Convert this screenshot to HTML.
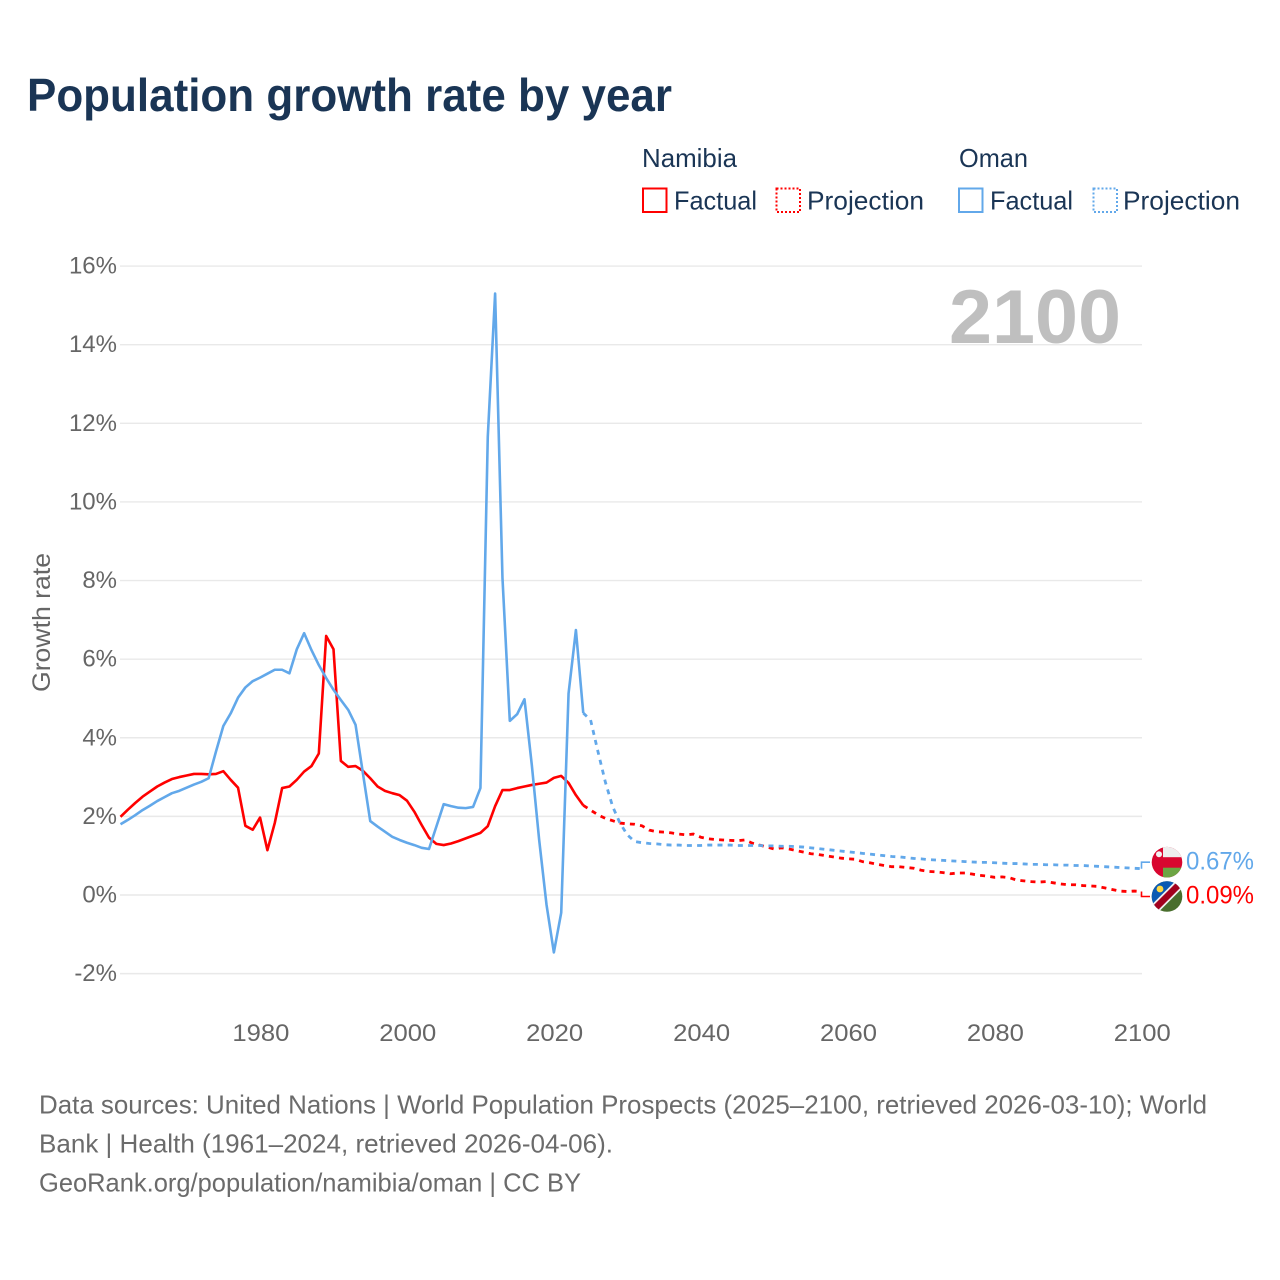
<!DOCTYPE html>
<html lang="en">
<head>
<meta charset="utf-8">
<title>Population growth rate by year</title>
<style>
html,body{margin:0;padding:0;background:#fff;}
svg{display:block;}
text{font-family:"Liberation Sans",sans-serif;}
.legend-text{font-size:26px;fill:#1a3555;}
.footer-text{font-size:26px;fill:#6b6b6b;}
.tick{font-size:24px;fill:#666;}
</style>
</head>
<body>
<svg id="chart" xmlns="http://www.w3.org/2000/svg" width="1280" height="1280" viewBox="0 0 1280 1280">
  <defs>
    <clipPath id="clip-oman"><circle cx="0" cy="0" r="15.3"/></clipPath>
    <clipPath id="clip-namibia"><circle cx="0" cy="0" r="15.3"/></clipPath>
  </defs>

  <text x="27" y="111" font-size="46" font-weight="700" fill="#1a3555" textLength="645" lengthAdjust="spacingAndGlyphs">Population growth rate by year</text>

  <g>
    <text class="legend-text" x="642" y="167" textLength="95" lengthAdjust="spacingAndGlyphs">Namibia</text>
    <text class="legend-text" x="959" y="167" textLength="69" lengthAdjust="spacingAndGlyphs">Oman</text>

    <rect x="643" y="188.5" width="23.5" height="23.5" fill="none" stroke="#ff0000" stroke-width="2"/>
    <text class="legend-text" x="674" y="209.5" textLength="83" lengthAdjust="spacingAndGlyphs">Factual</text>

    <rect x="776.5" y="188.5" width="23.5" height="23.5" fill="none" stroke="#ff0000" stroke-width="2" stroke-dasharray="2 2"/>
    <text class="legend-text" x="807" y="209.5" textLength="117" lengthAdjust="spacingAndGlyphs">Projection</text>

    <rect x="959" y="188.5" width="23.5" height="23.5" fill="none" stroke="#62a8ea" stroke-width="2"/>
    <text class="legend-text" x="990" y="209.5" textLength="83" lengthAdjust="spacingAndGlyphs">Factual</text>

    <rect x="1093.5" y="188.5" width="23.5" height="23.5" fill="none" stroke="#62a8ea" stroke-width="2" stroke-dasharray="2 2"/>
    <text class="legend-text" x="1123" y="209.5" textLength="117" lengthAdjust="spacingAndGlyphs">Projection</text>
  </g>

  <g id="grid"></g>
  <g id="yticks"></g>
  <g id="xticks"></g>

  <text x="949" y="343" font-size="76" font-weight="700" fill="#bfbfbf" textLength="172" lengthAdjust="spacingAndGlyphs">2100</text>

  <text transform="translate(50,692) rotate(-90)" font-size="25" fill="#666" textLength="139" lengthAdjust="spacingAndGlyphs">Growth rate</text>

  <g id="series"></g>

  <g id="flag-oman">
    <g clip-path="url(#clip-oman)">
      <rect x="-16" y="-16" width="32" height="32" fill="#d9062f"/>
      <rect x="-4" y="-16" width="20" height="11" fill="#eeeeee"/>
      <rect x="-4" y="5.5" width="20" height="11" fill="#6da544"/>
      <circle cx="-8" cy="-8" r="3" fill="#f3f3f3"/>
    </g>
  </g>
  <g id="flag-namibia">
    <g clip-path="url(#clip-namibia)">
      <rect x="-16" y="-16" width="32" height="32" fill="#496e2d"/>
      <polygon points="-16,-16 16,-16 -16,16" fill="#0b5ab3"/>
      <line x1="-16" y1="16" x2="16" y2="-16" stroke="#f0f0f0" stroke-width="10"/>
      <line x1="-16" y1="16" x2="16" y2="-16" stroke="#a2001d" stroke-width="6.5"/>
      <circle cx="-7" cy="-7.5" r="3.4" fill="#ffda44"/>
    </g>
  </g>
  <g id="end-labels"></g>

  <g>
    <text class="footer-text" x="39" y="1113.5" textLength="1168" lengthAdjust="spacingAndGlyphs">Data sources: United Nations | World Population Prospects (2025–2100, retrieved 2026-03-10); World</text>
    <text class="footer-text" x="39" y="1152.5" textLength="574" lengthAdjust="spacingAndGlyphs">Bank | Health (1961–2024, retrieved 2026-04-06).</text>
    <text class="footer-text" x="39" y="1191.5" textLength="542" lengthAdjust="spacingAndGlyphs">GeoRank.org/population/namibia/oman | CC BY</text>
  </g>
</svg>

<script>
const factualStartYear = 1961;
const yTickValues = [-2, 0, 2, 4, 6, 8, 10, 12, 14, 16];
const xTickValues = [1980, 2000, 2020, 2040, 2060, 2080, 2100];

const namibiaFactual = [
  1.99,2.17,2.34,2.5,2.63,2.76,2.86,2.95,3.0,3.04,
  3.08,3.08,3.07,3.08,3.15,2.93,2.73,1.76,1.66,1.97,
  1.14,1.83,2.72,2.76,2.93,3.14,3.28,3.6,6.59,6.25,
  3.41,3.26,3.28,3.16,2.97,2.76,2.65,2.59,2.54,2.4,
  2.12,1.78,1.46,1.3,1.27,1.31,1.37,1.44,1.51,1.58,
  1.75,2.26,2.67,2.67,2.72,2.76,2.8,2.83,2.86,2.98,
  3.03,2.85,2.54,2.28
];
const omanFactual = [
  1.8,1.91,2.03,2.16,2.27,2.39,2.49,2.59,2.65,2.73,
  2.81,2.88,2.97,3.65,4.3,4.62,5.02,5.28,5.44,5.53,
  5.63,5.73,5.73,5.64,6.25,6.66,6.23,5.85,5.52,5.22,
  4.96,4.71,4.33,3.1,1.88,1.74,1.61,1.48,1.4,1.33,
  1.27,1.2,1.17,1.74,2.31,2.26,2.22,2.21,2.24,2.72,
  11.65,15.3,8.07,4.43,4.6,4.98,3.3,1.4,-0.25,-1.46,
  -0.45,5.13,6.74,4.63
];
const namibiaProjection = [
  2.16,2.04,1.95,1.89,1.83,1.81,
  1.8,1.76,1.65,1.61,1.6,1.58,1.55,1.53,1.55,1.47,
  1.43,1.41,1.4,1.39,1.38,1.4,1.32,1.27,1.22,1.17,
  1.2,1.17,1.13,1.09,1.05,1.03,1.0,.97,.94,.92,
  .91,.85,.82,.78,.75,.72,.72,.7,.68,.63,
  .6,.59,.57,.54,.56,.56,.53,.5,.48,.45,
  .46,.44,.38,.36,.34,.33,.34,.31,.28,.26,
  .26,.24,.23,.22,.18,.14,.1,.09,.1,.09
];
const omanProjection = [
  4.45,3.65,2.88,2.25,1.83,1.53,
  1.36,1.33,1.31,1.3,1.28,1.27,1.27,1.26,1.26,1.26,
  1.27,1.27,1.27,1.27,1.26,1.26,1.26,1.26,1.25,1.25,
  1.24,1.24,1.23,1.22,1.2,1.18,1.16,1.14,1.12,1.1,
  1.08,1.06,1.04,1.02,1.0,.98,.97,.95,.93,.92,
  .9,.89,.88,.87,.86,.85,.84,.83,.83,.82,
  .81,.8,.8,.79,.78,.78,.77,.77,.76,.76,
  .75,.75,.74,.73,.72,.71,.7,.69,.68,.67
];

const NS = 'http://www.w3.org/2000/svg';
const xScale = function (year) { return 120.5 + (year - 1961) * (1141.5 - 120.5) / (2100 - 1961); };
const yScale = function (value) { return 895 - value * 39.31; };

const gridLayer = document.getElementById('grid');
const yTickLayer = document.getElementById('yticks');
const xTickLayer = document.getElementById('xticks');
const seriesLayer = document.getElementById('series');
const labelLayer = document.getElementById('end-labels');

yTickValues.forEach(function (tick) {
  const line = document.createElementNS(NS, 'line');
  
  
  line.setAttribute('x1', 120);
  line.setAttribute('x2', 1142);
  line.setAttribute('y1', yScale(tick));
  line.setAttribute('y2', yScale(tick));
  line.setAttribute('stroke', '#e9e9e9');
  line.setAttribute('stroke-width', 1.4);
  gridLayer.appendChild(line);

  const label = document.createElementNS(NS, 'text');
  
  
  label.setAttribute('class', 'tick');
  label.setAttribute('x', 117);
  label.setAttribute('y', yScale(tick) + 7.5);
  label.setAttribute('text-anchor', 'end');
  label.textContent = tick + '%';
  yTickLayer.appendChild(label);
});

xTickValues.forEach(function (tick) {
  const label = document.createElementNS(NS, 'text');
  
  
  label.setAttribute('class', 'tick');
  label.setAttribute('x', xScale(tick) + 0.8);
  label.setAttribute('y', 1041);
  label.setAttribute('text-anchor', 'middle');
  label.setAttribute('textLength', 57);
  label.setAttribute('lengthAdjust', 'spacingAndGlyphs');
  label.textContent = String(tick);
  xTickLayer.appendChild(label);
});

function linePath(startYear, values) {
  return values.map(function (value, index) {
    return (index ? 'L' : 'M') + xScale(startYear + index).toFixed(2) + ' ' + yScale(value).toFixed(2);
  }).join(' ');
}

function drawLine(name, startYear, values, color, dashed) {
  const path = document.createElementNS(NS, 'path');
  
  
  path.setAttribute('d', linePath(startYear, values));
  path.setAttribute('fill', 'none');
  path.setAttribute('stroke', color);
  path.setAttribute('stroke-width', dashed ? 2.8 : 2.6);
  path.setAttribute('stroke-linejoin', 'round');
  if (dashed) {
    path.setAttribute('stroke-dasharray', '5 5.2');
  }
  seriesLayer.appendChild(path);
}

const projectionStartYear = factualStartYear + namibiaFactual.length - 1;
drawLine('namibia-factual-line', factualStartYear, namibiaFactual, '#ff0000', false);
drawLine('namibia-projection-line', projectionStartYear, [namibiaFactual[namibiaFactual.length - 1]].concat(namibiaProjection), '#ff0000', true);
drawLine('oman-factual-line', factualStartYear, omanFactual, '#62a8ea', false);
drawLine('oman-projection-line', projectionStartYear, [omanFactual[omanFactual.length - 1]].concat(omanProjection), '#62a8ea', true);

function drawEnd(name, values, color, offset, flagId) {
  const last = values[values.length - 1];
  const lineY = yScale(last);
  const labelY = lineY + offset;
  const connector = document.createElementNS(NS, 'path');
  
  
  connector.setAttribute('d', 'M1141.5 ' + lineY.toFixed(1) + ' V' + labelY.toFixed(1) + ' H1150');
  connector.setAttribute('fill', 'none');
  connector.setAttribute('stroke', color);
  connector.setAttribute('stroke-width', 1.6);
  labelLayer.appendChild(connector);

  document.getElementById(flagId).setAttribute('transform', 'translate(1167,' + labelY.toFixed(1) + ')');

  const label = document.createElementNS(NS, 'text');
  
  
  label.setAttribute('x', 1186);
  label.setAttribute('y', labelY + 7.2);
  label.setAttribute('font-size', 25);
  label.setAttribute('fill', color);
  label.setAttribute('textLength', 68);
  label.setAttribute('lengthAdjust', 'spacingAndGlyphs');
  label.textContent = last.toFixed(2) + '%';
  labelLayer.appendChild(label);
}

drawEnd('oman-end', omanProjection, '#62a8ea', -6.5, 'flag-oman');
drawEnd('namibia-end', namibiaProjection, '#ff0000', 5, 'flag-namibia');
</script>
</body>
</html>
